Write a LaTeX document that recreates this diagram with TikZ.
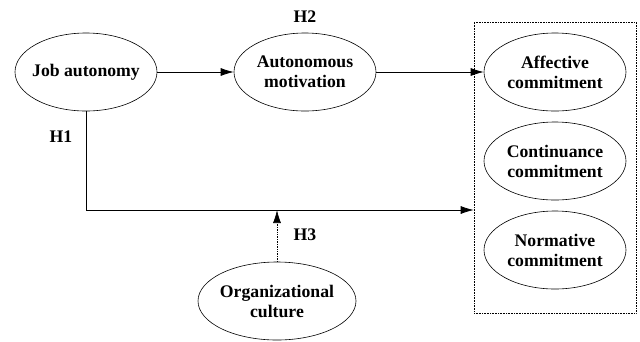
\documentclass[tikz,border=0pt]{standalone}
\usepackage{fontspec}
\setmainfont{Liberation Serif}
\usetikzlibrary{arrows.meta,shapes.geometric,positioning}

\begin{document}
\begin{tikzpicture}[x=1pt,y=-1pt,>={Latex[length=13pt,width=8pt]},
                    line width=0.7pt,
                    main node/.style={ellipse,draw,line width=0.6pt,inner xsep=-8pt,inner ysep=0pt,
                      minimum width=142pt,minimum height=78pt,align=center,
                      font=\rmfamily\bfseries\fontsize{17.7}{20}\selectfont},
                    hyp/.style={font=\rmfamily\bfseries\fontsize{17.7}{20}\selectfont}]

  \useasboundingbox (0,0) rectangle (640,341);

  \node[main node] (ja) at (86,72) {Job autonomy};
  \node[main node] (am) at (305,72) {Autonomous\\motivation};
  \node[main node] (ac) at (555,72) {Affective\\commitment};
  \node[main node] (cc) at (555,161) {Continuance\\commitment};
  \node[main node] (nc) at (555,250) {Normative\\commitment};
  \node[main node,minimum width=158pt] (oc) at (277,301) {Organizational\\culture};

  \node[draw,densely dotted,line width=0.6pt,minimum width=162pt,minimum height=291pt,
        inner sep=0pt] (box) at (555,167.5) {};

  \coordinate (mod) at (277,210);

  \node[hyp] (h1) at (61,137) {H1};
  \node[hyp] (h2) at (305,17) {H2};
  \node[hyp] (h3) at (305,235) {H3};

  \draw[->] (ja) -- (am);
  \draw[->] (am) -- (ac);
  \draw[->] (ja.south) |- (box.west |- mod);
  \draw[->,densely dotted] (oc) -- (mod);

\end{tikzpicture}
\end{document}
